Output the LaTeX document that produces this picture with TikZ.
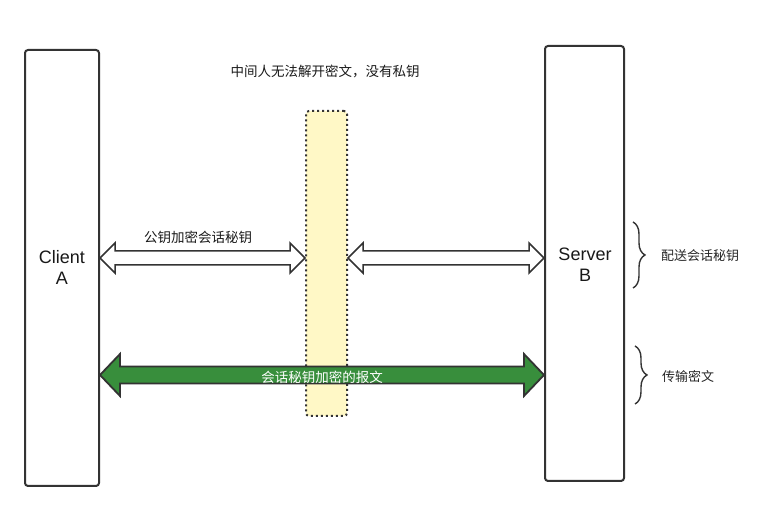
\documentclass[tikz,border=0pt]{standalone}
\usepackage{fontspec}
\setmainfont{Liberation Sans}
\newfontfamily\cjk{Noto Sans CJK SC}
\usetikzlibrary{calc,decorations.pathreplacing}
\definecolor{edge}{HTML}{333333}
\definecolor{yel}{HTML}{FFF8C6}
\definecolor{grn}{HTML}{388E3C}
\tikzset{
  lane/.style={draw=edge, line width=2pt, rounded corners=3pt, fill=white, inner sep=0pt},
  mitm/.style={draw=edge, line width=2pt, dash pattern=on 2pt off 3pt, rounded corners=3pt, fill=yel, inner sep=0pt},
  warrow/.style={draw=edge, line width=1.5pt, fill=white, line join=miter},
  garrow/.style={draw=edge, line width=1.8pt, fill=grn, line join=miter},
  lbl/.style={font=\cjk\fontsize{13.5}{16}\selectfont, text=black!90, inner sep=0pt},
  sidelbl/.style={font=\cjk\fontsize{13}{16}\selectfont, text=black!85, inner sep=0pt, anchor=west},
  bigtxt/.style={font=\fontsize{18}{22}\selectfont, align=center, text=black!90},
  brc/.style={draw=edge, line width=1.4pt, decorate, decoration={brace, amplitude=12pt}}
}
\begin{document}
\begin{tikzpicture}[x=1pt,y=1pt]
\useasboundingbox (0,0) rectangle (764,510);
% lanes
\node[lane, minimum width=74pt, minimum height=436pt] (client) at (62,242) {};
\node[lane, minimum width=79pt, minimum height=435pt] (server) at (584.5,246.5) {};
\node[mitm, minimum width=41pt, minimum height=305pt] (mid) at (326.5,246.5) {};
\node[bigtxt] (ctext) at (62,243) {Client\\[-1pt]A};
\node[bigtxt] (stext) at (585,245) {Server\\[-1pt]B};
% top label
\node[lbl] (top) at (325,439) {中间人无法解开密文，没有私钥};
% row coordinates
\coordinate (r1) at (0,252);
\coordinate (r2) at (0,135);
% white double arrow 1
\draw[warrow] let \p1=(client.east |- r1), \p2=(mid.west |- r1) in
  (\x1,\y1) -- (\x1+15pt,\y1+15pt) -- (\x1+15pt,\y1+7pt) -- (\x2-15pt,\y1+7pt) -- (\x2-15pt,\y1+15pt)
  -- (\x2,\y1) -- (\x2-15pt,\y1-15pt) -- (\x2-15pt,\y1-7pt) -- (\x1+15pt,\y1-7pt) -- (\x1+15pt,\y1-15pt) -- cycle;
% white double arrow 2
\draw[warrow] let \p1=(mid.east |- r1), \p2=(server.west |- r1) in
  (\x1,\y1) -- (\x1+15pt,\y1+15pt) -- (\x1+15pt,\y1+7pt) -- (\x2-15pt,\y1+7pt) -- (\x2-15pt,\y1+15pt)
  -- (\x2,\y1) -- (\x2-15pt,\y1-15pt) -- (\x2-15pt,\y1-7pt) -- (\x1+15pt,\y1-7pt) -- (\x1+15pt,\y1-15pt) -- cycle;
\node[lbl] (l1) at (198,273) {公钥加密会话秘钥};
% green double arrow
\draw[garrow] let \p1=(client.east |- r2), \p2=(server.west |- r2) in
  (\x1,\y1) -- (\x1+20pt,\y1+21pt) -- (\x1+20pt,\y1+8.5pt) -- (\x2-20pt,\y1+8.5pt) -- (\x2-20pt,\y1+21pt)
  -- (\x2,\y1) -- (\x2-20pt,\y1-21pt) -- (\x2-20pt,\y1-8.5pt) -- (\x1+20pt,\y1-8.5pt) -- (\x1+20pt,\y1-21pt) -- cycle;
\node[lbl, text=white] (l2) at (322,133) {会话秘钥加密的报文};
% braces
\coordinate (b1t) at (633,288);
\coordinate (b1b) at (633,222);
\coordinate (b2t) at (635,164);
\coordinate (b2b) at (635,106);
\draw[brc] (b1t) -- (b1b);
\draw[brc] (b2t) -- (b2b);
\node[sidelbl] (s1) at (661,254) {配送会话秘钥};
\node[sidelbl] (s2) at (662,133) {传输密文};
\end{tikzpicture}
\end{document}
